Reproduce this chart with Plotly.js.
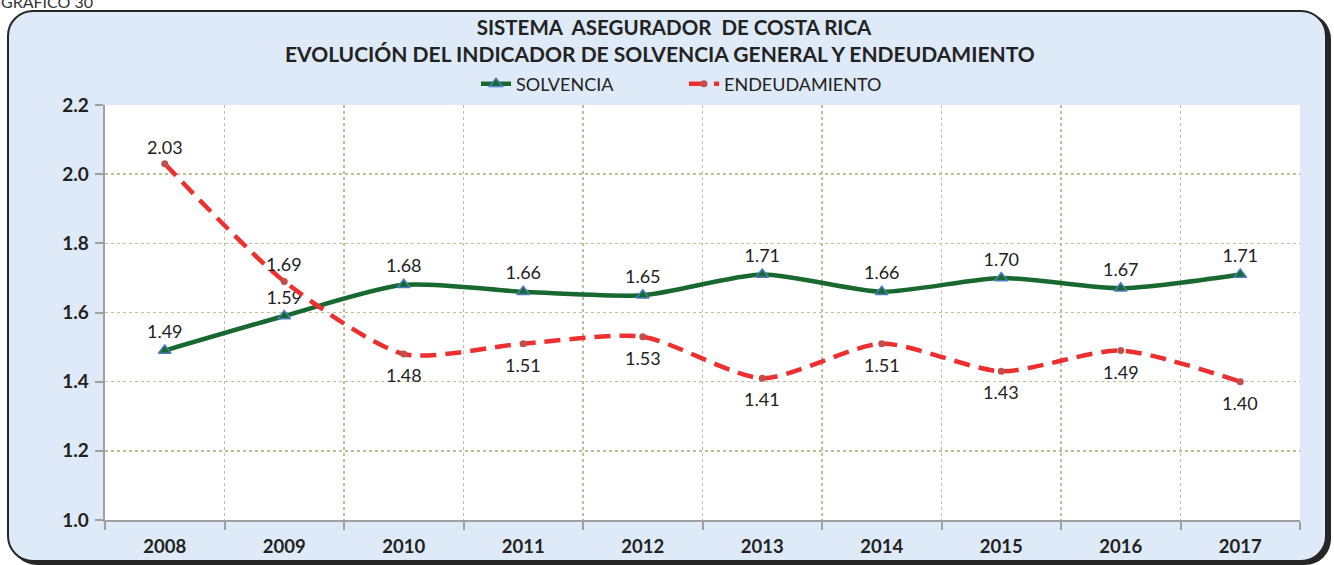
<!DOCTYPE html>
<html>
<head>
<meta charset="utf-8">
<script src="https://cdn.plot.ly/plotly-3.0.1.min.js"></script>
<style>
  html, body { margin:0; padding:0; background:#ffffff; width:1334px; height:565px; overflow:hidden; }
  #box { position:absolute; left:7px; top:10px; width:1316px; height:548px; background:#DEEAF7;
         border:2px solid #262626; border-radius:26px; box-shadow:4px 3px 0 #262626; }
  #chart { position:absolute; left:0; top:0; width:1334px; height:565px; }
</style>
</head>
<body>
<div id="box"></div>
<div id="chart"></div>
<script>
const years = ['2008','2009','2010','2011','2012','2013','2014','2015','2016','2017'];
const solvencia = [1.49,1.59,1.68,1.66,1.65,1.71,1.66,1.70,1.67,1.71];
const endeudamiento = [2.03,1.69,1.48,1.51,1.53,1.41,1.51,1.43,1.49,1.40];
const endLabelAbove = [true,true,false,false,false,false,false,false,false,false];
const titleLine1 = 'SISTEMA  ASEGURADOR  DE COSTA RICA';
const titleLine2 = 'EVOLUCIÓN DEL INDICADOR DE SOLVENCIA GENERAL Y ENDEUDAMIENTO';

const FONT = 'Lato, "Open Sans", sans-serif';
const LABEL_FONT = {family: FONT, size:18, color:'#222222'};

const traces = [
  {
    x: years, y: solvencia, name: 'SOLVENCIA', type: 'scatter', mode: 'lines+markers+text',
    line: {color:'#17692F', width:4.5, shape:'spline', smoothing:0.7},
    marker: {symbol:'triangle-up', size:11, color:'#17692F', line:{color:'#4A7EBB', width:1.5}},
    text: solvencia.map(v => v.toFixed(2)), textposition: 'top center',
    textfont: LABEL_FONT, cliponaxis:false
  },
  {
    x: years, y: endeudamiento, name: 'ENDEUDAMIENTO', type: 'scatter', mode: 'lines+markers',
    line: {color:'#EE2F2F', width:4.5, dash:'16px,9px', shape:'spline', smoothing:0.7},
    marker: {symbol:'circle', size:7, color:'#C0504D'},
    cliponaxis:false
  }
];

// category index used as annotation x (category axis)
const endAnnotations = years.map((yr, i) => ({
  x: i, y: endeudamiento[i], xref:'x', yref:'y', text: endeudamiento[i].toFixed(2),
  showarrow:false, xanchor:'center', yanchor:'middle',
  yshift: endLabelAbove[i] ? 17 : -21, font: {family: FONT, size:18, color:'#222222'}
}));

const layout = {
  width:1334, height:565,
  margin:{l:105, r:34, t:105, b:45},
  paper_bgcolor:'rgba(0,0,0,0)', plot_bgcolor:'#ffffff',
  font:{family:FONT, color:'#222222'},
  showlegend:true,
  legend:{orientation:'h', x:(476-105)/1195, xanchor:'left', y:1.0506, yanchor:'middle', entrywidth:163,
          font:{family:FONT, size:18, color:'#222222'}, bgcolor:'rgba(0,0,0,0)', traceorder:'normal'},
  title:{text:'<b>'+titleLine1+'</b>', x:(674)/1334, xanchor:'center', y:1-28/565, yanchor:'middle', yref:'container',
         font:{family:FONT, size:20.5, color:'#222222'}},
  annotations:[
    {text:'<b>'+titleLine2+'</b>', xref:'paper', yref:'paper', x:(660-105)/1195, y:(520-54)/415,
     xanchor:'center', yanchor:'middle', showarrow:false, font:{family:FONT, size:21, color:'#222222'}},
    {text:'GRÁFICO 30', xref:'paper', yref:'paper', x:-106/1195, y:(520-2)/415,
     xanchor:'left', yanchor:'middle', showarrow:false, font:{family:FONT, size:16, color:'#333333'}}
  ].concat(endAnnotations),
  xaxis:{type:'category', range:[-0.5, 9.5], tickson:'boundaries', ticks:'outside', ticklen:8, tickcolor:'#A0A0A0', tickwidth:2,
         showline:true, linecolor:'#A0A0A0', linewidth:2, ticklabelstandoff:9,
         showgrid:true, gridcolor:'#C4BC96', griddash:'dot', gridwidth:1.5,
         tickfont:{family:FONT, size:18.5, color:'#222222', weight:'bold'}, fixedrange:true},
  yaxis:{range:[1.0,2.2], dtick:0.2, tick0:1.0, tickformat:'.1f', ticksuffix:'\u2009', ticks:'outside', ticklen:8, tickcolor:'#A0A0A0', tickwidth:2,
         showline:true, linecolor:'#A0A0A0', linewidth:2,
         showgrid:true, gridcolor:'#C4BC96', griddash:'dot', gridwidth:1.5, zeroline:false,
         tickfont:{family:FONT, size:19, color:'#222222', weight:'bold'}, fixedrange:true}
};

Plotly.newPlot('chart', traces, layout, {displayModeBar:false, staticPlot:true});
</script>
</body>
</html>
